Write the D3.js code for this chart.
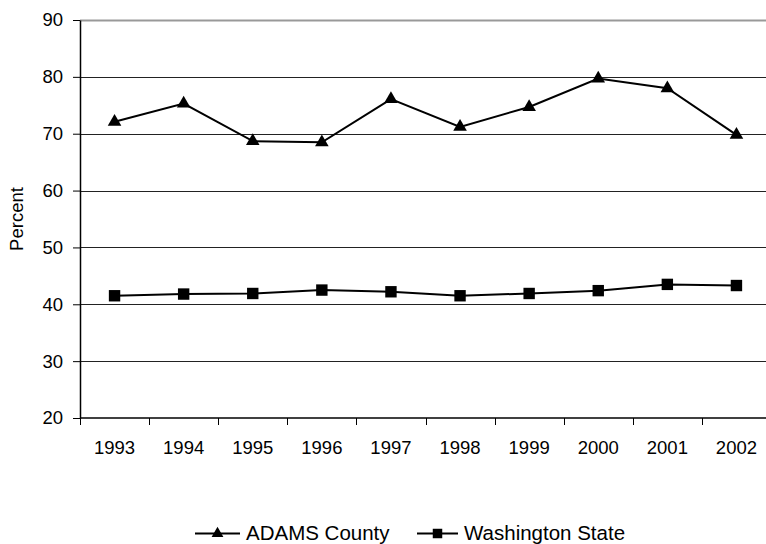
<!DOCTYPE html>
<html lang="en">
<head>
  <meta charset="UTF-8">
  <title>Percent</title>
  <script src="https://d3js.org/d3.v7.min.js"></script>
  <style>
    body { margin: 0; background: #fff; overflow: hidden; }
  </style>
</head>
<body>
<svg width="766" height="544"></svg>
<script>
  const years = ["1993", "1994", "1995", "1996", "1997", "1998", "1999", "2000", "2001", "2002"];
  const adams = [72.1, 75.3, 68.7, 68.5, 76.1, 71.2, 74.7, 79.7, 78.0, 69.8];
  const washington = [41.5, 41.8, 41.9, 42.5, 42.2, 41.5, 41.9, 42.4, 43.5, 43.3];
  const yTicks = [20, 30, 40, 50, 60, 70, 80, 90];
  const seriesNames = ["ADAMS County", "Washington State"];

  const FONT = "Liberation Sans, Arial, sans-serif";

  const svg = d3.select("svg");
  const margin = { left: 80, top: 20, right: -5, bottom: 126 };
  const width = +svg.attr("width");
  const height = +svg.attr("height");
  const innerWidth = width - margin.left - margin.right;
  const innerHeight = height - margin.top - margin.bottom;

  const x = d3.scaleBand().domain(years).range([0, innerWidth]);
  const y = d3.scaleLinear().domain([20, 90]).range([innerHeight, 0]);

  const g = svg.append("g")
    .attr("transform", `translate(${margin.left},${margin.top})`);

  // gridlines
  g.selectAll(".grid")
    .data(yTicks.filter(d => d > 20))
    .join("line")
    .attr("x1", 0).attr("x2", width - margin.left)
    .attr("y1", d => Math.round(y(d)) + 0.5)
    .attr("y2", d => Math.round(y(d)) + 0.5)
    .attr("stroke", d => d === 90 ? "#999" : "#222")
    .attr("stroke-width", d => d === 90 ? 2 : 1);

  // y axis
  const yAxis = g.append("g")
    .call(d3.axisLeft(y).tickValues(yTicks).tickSize(7).tickPadding(10).tickSizeOuter(0));
  yAxis.select(".domain").attr("stroke", "#000").attr("stroke-width", 1.5);
  yAxis.selectAll(".tick line").attr("stroke", "#000");
  yAxis.selectAll("text")
    .attr("font-size", 18.5)
    .attr("font-family", FONT)
    .attr("fill", "#000");

  // x axis, ticks on category boundaries
  const xAxis = g.append("g").attr("transform", `translate(0,${innerHeight})`);
  xAxis.append("line")
    .attr("x1", 0).attr("x2", width - margin.left)
    .attr("y1", 0).attr("y2", 0)
    .attr("stroke", "#000").attr("stroke-width", 1.5);
  xAxis.selectAll(".xtick")
    .data(years)
    .join("line")
    .attr("x1", d => Math.round(x(d)) + 0.5)
    .attr("x2", d => Math.round(x(d)) + 0.5)
    .attr("y1", 0).attr("y2", 7)
    .attr("stroke", "#000");
  xAxis.selectAll(".xlabel")
    .data(years)
    .join("text")
    .attr("x", d => x(d) + x.bandwidth() / 2)
    .attr("y", 36)
    .attr("text-anchor", "middle")
    .attr("font-family", FONT)
    .attr("font-size", 18.5)
    .attr("fill", "#000")
    .text(d => d);

  // y title
  svg.append("text")
    .attr("transform", `translate(23,${margin.top + innerHeight / 2}) rotate(-90)`)
    .attr("text-anchor", "middle")
    .attr("font-family", FONT)
    .attr("font-size", 18.5)
    .attr("fill", "#000")
    .text("Percent");

  const line = d3.line()
    .x((d, i) => x(years[i]) + x.bandwidth() / 2)
    .y(d => y(d));

  const triangle = d3.symbol().type(d3.symbolTriangle);
  const square = d3.symbol().type(d3.symbolSquare);

  // ADAMS County
  g.append("path").datum(adams)
    .attr("d", line).attr("fill", "none").attr("stroke", "#000").attr("stroke-width", 2);
  g.selectAll(".tri")
    .data(adams)
    .join("path")
    .attr("d", triangle.size(80))
    .attr("transform", (d, i) => `translate(${x(years[i]) + x.bandwidth() / 2},${y(d)})`)
    .attr("fill", "#000");

  // Washington State
  g.append("path").datum(washington)
    .attr("d", line).attr("fill", "none").attr("stroke", "#000").attr("stroke-width", 2);
  g.selectAll(".sq")
    .data(washington)
    .join("path")
    .attr("d", square.size(130))
    .attr("transform", (d, i) => `translate(${x(years[i]) + x.bandwidth() / 2},${y(d)})`)
    .attr("fill", "#000");

  // legend
  const legend = svg.append("g").attr("transform", "translate(0,533.5)");
  const items = [
    { name: seriesNames[0], x0: 195, len: 45, sym: triangle.size(60) },
    { name: seriesNames[1], x0: 417, len: 41, sym: square.size(90) }
  ];
  items.forEach(it => {
    legend.append("line")
      .attr("x1", it.x0).attr("x2", it.x0 + it.len)
      .attr("y1", 0).attr("y2", 0)
      .attr("stroke", "#000").attr("stroke-width", 2);
    legend.append("path")
      .attr("d", it.sym)
      .attr("transform", `translate(${it.x0 + it.len / 2},0)`)
      .attr("fill", "#000");
    legend.append("text")
      .attr("x", it.x0 + it.len + 6)
      .attr("y", 6.5)
      .attr("font-family", FONT)
      .attr("font-size", 20.5)
      .attr("fill", "#000")
      .text(it.name);
  });
</script>
</body>
</html>
